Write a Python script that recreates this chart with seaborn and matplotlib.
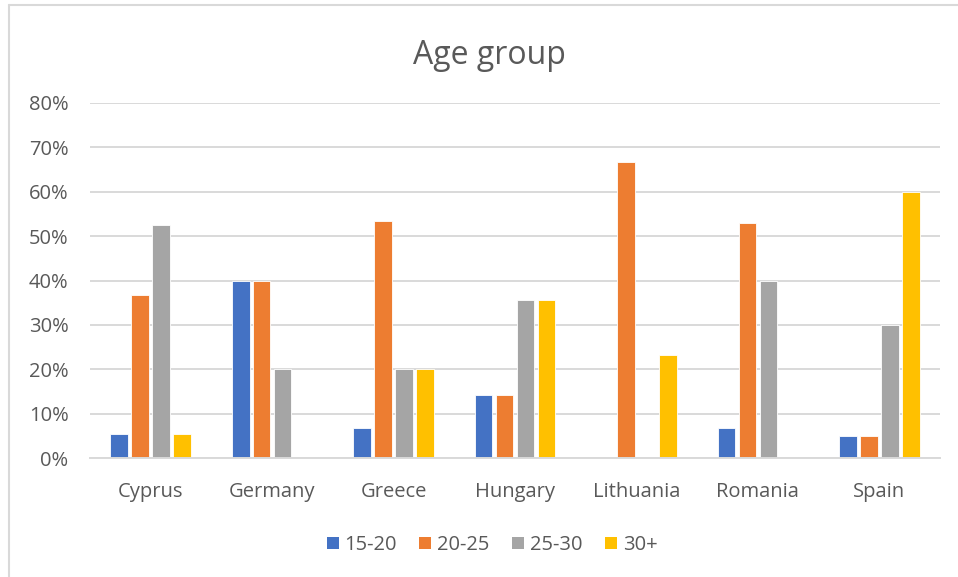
import matplotlib
matplotlib.use("Agg")
import matplotlib.pyplot as plt
import matplotlib.lines as mlines
import pandas as pd
import seaborn as sns

countries = ["Cyprus", "Germany", "Greece", "Hungary", "Lithuania", "Romania", "Spain"]
age_groups = ["15-20", "20-25", "25-30", "30+"]
share_15_20 = [0.053, 0.40, 0.067, 0.143, 0.0, 0.067, 0.05]
share_20_25 = [0.368, 0.40, 0.533, 0.143, 0.667, 0.529, 0.05]
share_25_30 = [0.526, 0.20, 0.20, 0.357, 0.0, 0.40, 0.30]
share_30_plus = [0.053, 0.0, 0.20, 0.357, 0.233, 0.0, 0.60]
y_ticks = [0.0, 0.1, 0.2, 0.3, 0.4, 0.5, 0.6, 0.7, 0.8]
palette = ["#4472C4", "#ED7D31", "#A5A5A5", "#FFC000"]

series = [share_15_20, share_20_25, share_25_30, share_30_plus]
rows = []
for grp, vals in zip(age_groups, series):
    for c, v in zip(countries, vals):
        rows.append({"Country": c, "Age": grp, "Share": v})
df = pd.DataFrame(rows)

sns.set_theme(style="white")
plt.rcParams["font.family"] = ["Open Sans", "DejaVu Sans"]
text_color = "#595959"
grid_color = "#D9D9D9"
label_size = 14.5

fig = plt.figure(figsize=(9.58, 5.77), dpi=100)
ax = fig.add_axes([90 / 958, 1 - 458 / 577, 850 / 958, 355 / 577])

sns.barplot(data=df, x="Country", y="Share", hue="Age", hue_order=age_groups,
            order=countries, palette=palette, width=0.69, gap=0.16,
            edgecolor="white", linewidth=0.6, saturation=1, ax=ax, legend=False)

ax.set_ylim(0, 0.8)
ax.set_xlim(-0.5, len(countries) - 0.5)
ax.set_yticks(y_ticks)
ax.set_yticklabels([f"{int(round(t * 100))}%" for t in y_ticks])
ax.yaxis.grid(True, color=grid_color, linewidth=1.4)
ax.set_axisbelow(True)
for s in ["top", "right", "left"]:
    ax.spines[s].set_visible(False)
ax.spines["bottom"].set_color(grid_color)
ax.spines["bottom"].set_linewidth(1.4)
ax.set_xlabel("")
ax.set_ylabel("")
ax.tick_params(axis="both", length=0, labelsize=label_size, labelcolor=text_color)
ax.tick_params(axis="y", pad=15.5)
ax.tick_params(axis="x", pad=17)

fig.text(489 / 958, 1 - 64 / 577, "Age group", ha="center", va="baseline",
         fontsize=23, color=text_color)

handles = [plt.Rectangle((0, 0), 1, 1, facecolor=c, edgecolor="none") for c in palette]
fig.legend(handles, age_groups, loc="center", bbox_to_anchor=(492 / 958, 1 - 545 / 577),
           ncol=4, frameon=False, fontsize=label_size, labelcolor=text_color,
           handlelength=0.6, handleheight=0.6, handletextpad=0.3, columnspacing=1.1)

# chart area outline
border = "#D9D9D9"
fig.add_artist(mlines.Line2D([8.5 / 958, 8.5 / 958], [0, 1 - 4.5 / 577], color=border,
                             linewidth=1.5, transform=fig.transFigure))
fig.add_artist(mlines.Line2D([8.5 / 958, 1], [1 - 4.5 / 577, 1 - 4.5 / 577], color=border,
                             linewidth=1.5, transform=fig.transFigure))

fig.savefig("out.png", dpi=100, facecolor="white")
